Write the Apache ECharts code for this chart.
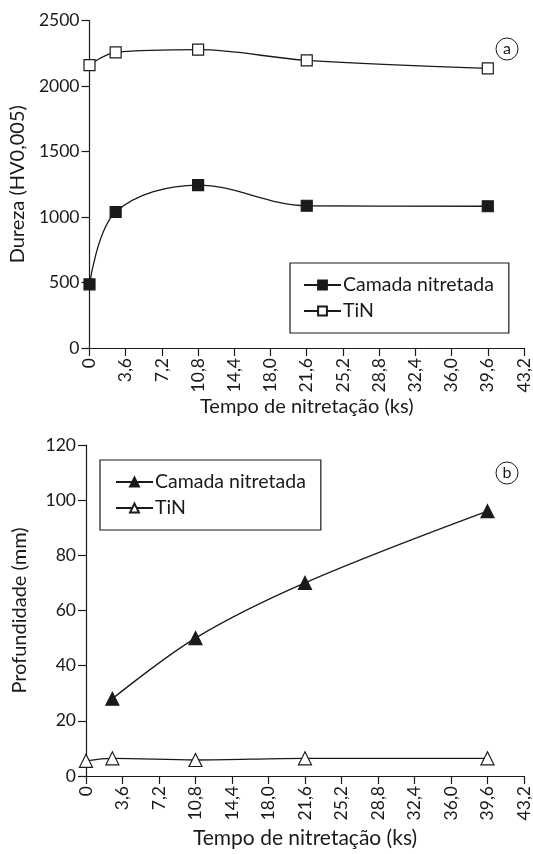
<!DOCTYPE html>
<html><head><meta charset="utf-8">
<script src="https://cdn.jsdelivr.net/npm/echarts@6/dist/echarts.min.js"></script>
<style>html,body{margin:0;padding:0;background:#fff}#c{width:533px;height:854px}</style>
</head><body><div id="c"></div>
<script>
// Data
const xTicksMax = 43.2;
const hardTimeCamada = [0, 2.6, 10.8, 21.6, 39.6];
const hardCamada = [486, 1038, 1244, 1086, 1082];
const hardTimeTiN = [0, 2.6, 10.8, 21.6, 39.6];
const hardTiN = [2160, 2257, 2277, 2196, 2135];
const depthTimeCamada = [2.6, 10.8, 21.6, 39.6];
const depthCamada = [28, 50, 70, 96];
const depthTimeTiN = [0, 2.6, 10.8, 21.6, 39.6];
const depthTiN = [5.5, 6.4, 5.8, 6.4, 6.4];
const seriesNames = ['Camada nitretada', 'TiN'];

const FONT = 'Lato';
const ink = '#1a1a1a';
function pairs(xs, ys){ return xs.map((x,i)=>[x, ys[i]]); }
const fmtX = v => Math.abs(v) < 1e-9 ? '0' : v.toFixed(1).replace('.', ',');

function xAxis(gridIndex, nameGap, nameSize){
  return {
    type:'value', gridIndex, min:0, max:xTicksMax, interval:3.6,
    name:'Tempo de nitretação (ks)', nameLocation:'middle', nameGap,
    nameTextStyle:{fontFamily:FONT, fontSize:nameSize, color:ink},
    axisLine:{lineStyle:{color:ink, width:1.2}},
    axisTick:{length:8, lineStyle:{color:ink, width:1.2}},
    axisLabel:{rotate:90, margin:10, formatter:fmtX, fontFamily:FONT, fontSize:17.5, color:ink},
    splitLine:{show:false}
  };
}
function yAxis(gridIndex, max, interval, name, nameGap){
  return {
    type:'value', gridIndex, min:0, max, interval,
    name, nameLocation:'middle', nameGap,
    nameTextStyle:{fontFamily:FONT, fontSize:20, color:ink},
    axisLine:{show:true, lineStyle:{color:ink, width:1.2}},
    axisTick:{show:true, length:8, lineStyle:{color:ink, width:1.2}},
    axisLabel:{margin:10, formatter: v => String(v), fontFamily:FONT, fontSize:17.5, color:ink},
    splitLine:{show:false}
  };
}
function line(name, data, idx, symbol, fill, size){
  return {
    type:'line', name, data, xAxisIndex:idx, yAxisIndex:idx,
    smooth:0.35, symbol, symbolSize:size, showSymbol:true,
    lineStyle:{color:ink, width:1.3},
    itemStyle:{color:fill, borderColor:ink, borderWidth:1.2},
    z: 3
  };
}
function legend(names, left, top, pad){
  return {
    data: names, left, top, orient:'vertical', itemWidth:37, itemHeight:11, itemGap:6,
    padding: pad, borderColor:ink, borderWidth:1.2,
    formatter: n => n.replace(/ #.$/, ''),
    textStyle:{fontFamily:FONT, fontSize:19.5, color:ink, padding:[0,0,0,-3]},
    selectedMode:false
  };
}
function circleLabel(cx, cy, t){
  return {
    type:'group', children:[
      {type:'circle', shape:{cx, cy, r:11}, style:{fill:'#fff', stroke:ink, lineWidth:1}},
      {type:'text', x:cx, y:cy, style:{text:t, fontFamily:FONT, fontSize:16, fill:ink, align:'center', verticalAlign:'middle'}}
    ]
  };
}

const chart = echarts.init(document.getElementById('c'));
chart.setOption({
  animation:false,
  backgroundColor:'#fff',
  grid:[
    {left:86, right:7, top:20.5, bottom:506},
    {left:86, right:6, top:445, bottom:78}
  ],
  xAxis:[xAxis(0, 49, 20), xAxis(1, 52, 21)],
  yAxis:[yAxis(0, 2500, 500, 'Dureza (HV0,005)', 56), yAxis(1, 120, 20, 'Profundidade (mm)', 56)],
  legend:[
    legend([seriesNames[0]+' #a', seriesNames[1]+' #a'], 290, 263, [12, 15, 12, 13]),
    legend([seriesNames[0]+' #b', seriesNames[1]+' #b'], 100, 460, [12, 15, 12, 15])
  ],
  series:[
    line(seriesNames[0]+' #a', pairs(hardTimeCamada, hardCamada), 0, 'rect', ink, 11),
    line(seriesNames[1]+' #a', pairs(hardTimeTiN, hardTiN), 0, 'rect', '#fff', 11),
    line(seriesNames[0]+' #b', pairs(depthTimeCamada, depthCamada), 1, 'triangle', ink, 13),
    line(seriesNames[1]+' #b', pairs(depthTimeTiN, depthTiN), 1, 'triangle', '#fff', 13)
  ],
  graphic:[circleLabel(507, 49, 'a'), circleLabel(507, 473, 'b')]
});
</script></body></html>
